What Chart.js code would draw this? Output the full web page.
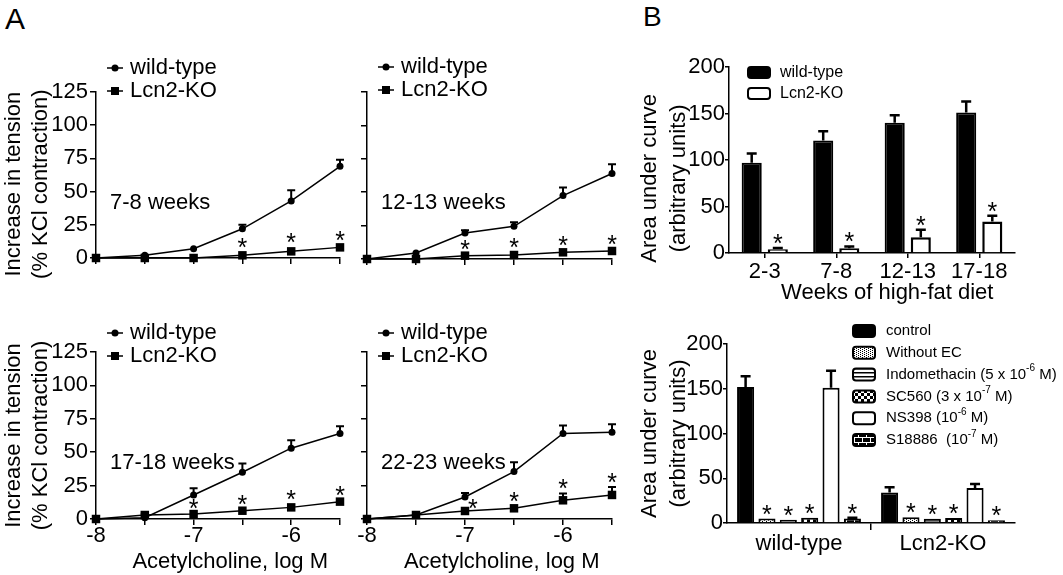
<!DOCTYPE html>
<html>
<head>
<meta charset="utf-8">
<script src="https://cdn.jsdelivr.net/npm/chart.js@4.4.1/dist/chart.umd.min.js"></script>
<style>
  html, body { margin: 0; padding: 0; background: #fff; }
  #wrap { position: relative; width: 1063px; height: 575px; overflow: hidden; background: #fff;
          font-family: "Liberation Sans", Arial, sans-serif; }
  #wrap canvas { position: absolute; left: 0; top: 0; }
  .tag { position: absolute; line-height: 1; color: #000; }
</style>
</head>
<body>
<div id="wrap">
  <div class="tag" style="left:5px;top:4px;font-size:30px">A</div>
  <div class="tag" style="left:643px;top:3px;font-size:28px">B</div>
  <canvas id="a1" width="1063" height="575"></canvas>
  <canvas id="a2" width="1063" height="575"></canvas>
  <canvas id="a3" width="1063" height="575"></canvas>
  <canvas id="a4" width="1063" height="575"></canvas>
  <canvas id="b1" width="1063" height="575"></canvas>
  <canvas id="b2" width="1063" height="575"></canvas>
</div>
<script>
// ---- data: panel A (acetylcholine dose response) ----
const doses = [-8, -7.5, -7, -6.5, -6, -5.5];

const wt78 = [0, 2, 7, 22, 43, 69];
const wt78Err = [0, 0, 0, 3, 8, 5];
const ko78 = [0, 0, 0, 2, 5, 8];
const ko78Err = [0, 0, 0, 0, 0, 0];
const star78 = [[-6.5, 12], [-6, 15.5], [-5.5, 17]];

const wt1213 = [0, 4.5, 19.5, 24.5, 47.5, 64];
const wt1213Err = [0, 0, 2, 3, 6, 7];
const ko1213 = [0, 0, 2.5, 3, 5, 6];
const ko1213Err = [0, 0, 0, 0, 0, 0];
const star1213 = [[-7, 11], [-6.5, 12.5], [-6, 14], [-5.5, 15]];

const wt1718 = [0, 1, 18, 35, 53, 64];
const wt1718Err = [0, 0, 5, 6.5, 6, 5.5];
const ko1718 = [0, 3, 3.7, 6.2, 8.7, 13];
const ko1718Err = [0, 1, 0, 0, 0, 0];
const star1718 = [[-7, 11.7], [-6.5, 15], [-6, 18.7], [-5.5, 21.7]];

const wt2223 = [0, 3, 16.5, 35.5, 64, 65];
const wt2223Err = [0, 0, 3, 7, 6, 6];
const ko2223 = [0, 3, 6, 8, 14, 18];
const ko2223Err = [0, 0, 0, 0, 5, 6];
const star2223 = [[-6.92, 11.7], [-6.5, 17], [-6, 26.7], [-5.5, 31.6]];

// ---- data: panel B (area under curve) ----
const weeks = ['2-3', '7-8', '12-13', '17-18'];
const aucWt = [97, 121, 140, 151];
const aucWtErr = [10, 10, 8, 12];
const aucKo = [4, 5, 17, 34];
const aucKoErr = [1.5, 2, 8, 6];

const genotypes = ['wild-type', 'Lcn2-KO'];
const treatments = ['control', 'Without EC', 'Indomethacin (5 x 10^{-6} M)',
  'SC560 (3 x 10^{-7} M)', 'NS398 (10^{-6} M)', 'S18886  (10^{-7} M)'];
const treatWt = [152, 5, 3.7, 6, 151, 5];
const treatWtErr = [12, 0, 0, 0, 19, 1];
const treatKo = [34, 6.5, 4.8, 5.6, 39, 3];
const treatKoErr = [6, 0, 0, 0, 4.5, 0];
const treatStar = [false, true, true, true, false, true];

const FONT = '"Liberation Sans", Arial, Helvetica, sans-serif';
const W = 1063, H = 575;
Chart.defaults.font.family = FONT;
Chart.defaults.color = '#000';
Chart.defaults.animation = false;

const fixedAxis = size => s => { if (s.isHorizontal()) s.height = size; else s.width = size; };

function errUp(ctx, x, y0, y1, cap) {
  ctx.beginPath();
  ctx.moveTo(x, y0); ctx.lineTo(x, y1);
  ctx.moveTo(x - cap / 2, y1); ctx.lineTo(x + cap / 2, y1);
  ctx.stroke();
}

function star(ctx, x, yCenter) {
  ctx.font = `25px ${FONT}`;
  ctx.textAlign = 'center';
  ctx.textBaseline = 'alphabetic';
  ctx.fillText('*', x, yCenter + 14);
}

// text with ^{...} superscripts
function richText(ctx, str, x, y, size) {
  str.split(/\^\{([^}]*)\}/).forEach((part, i) => {
    const sup = i % 2 === 1;
    ctx.font = `${sup ? Math.round(size * 0.68) : size}px ${FONT}`;
    ctx.fillText(part, x, sup ? y - size * 0.4 : y);
    x += ctx.measureText(part).width;
  });
}

function makePattern(w, h, draw) {
  const c = document.createElement('canvas');
  c.width = w; c.height = h;
  const g = c.getContext('2d');
  draw(g);
  return document.createElement('canvas').getContext('2d').createPattern(c, 'repeat');
}

const blackAxis = (tickLength) => ({
  grid: { display: true, drawOnChartArea: false, drawTicks: true, tickLength, color: '#000', lineWidth: 1.5 },
  border: { display: true, color: '#000', width: 1.5 }
});

// ---- panel A ----
function linePanel(id, p) {
  const a = p.area;
  const yW = p.yLabels ? 95 : 8;
  const xH = p.xLabels ? 56 : 8;

  const extras = {
    id: 'lineExtras',
    afterDatasetsDraw(chart) {
      const { ctx, chartArea: ca, scales: { x, y } } = chart;
      ctx.save();
      ctx.strokeStyle = '#000';
      ctx.fillStyle = '#000';
      ctx.lineWidth = 2;
      [[p.wt, p.wtErr], [p.ko, p.koErr]].forEach(([vals, errs]) => {
        vals.forEach((v, i) => {
          if (!errs[i]) return;
          errUp(ctx, x.getPixelForValue(doses[i]), y.getPixelForValue(v), y.getPixelForValue(v + errs[i]), 8);
        });
      });
      p.stars.forEach(([sx, sy]) => star(ctx, x.getPixelForValue(sx), y.getPixelForValue(sy)));

      ctx.font = `22px ${FONT}`;
      ctx.textAlign = 'left';
      ctx.textBaseline = 'middle';
      ctx.fillText(p.label, ca.left + 14, ca.top + 111);

      chart.data.datasets.forEach((ds, i) => {
        const ly = ca.top + p.legendDy + i * 23;
        const lx = ca.left + 11;
        ctx.lineWidth = 1.5;
        ctx.beginPath(); ctx.moveTo(lx, ly); ctx.lineTo(lx + 16, ly); ctx.stroke();
        ctx.beginPath();
        if (ds.pointStyle === 'rect') ctx.rect(lx + 4, ly - 4, 8, 8);
        else ctx.arc(lx + 8, ly, 3.5, 0, Math.PI * 2);
        ctx.fill();
        ctx.font = `22px ${FONT}`;
        ctx.fillText(ds.label, lx + 23, ly);
      });
      ctx.restore();
    }
  };

  const series = (vals) => doses.map((x, i) => ({ x, y: vals[i] }));
  const lineStyle = { borderColor: '#000', backgroundColor: '#000', borderWidth: 1.5,
    pointBackgroundColor: '#000', pointBorderWidth: 0, tension: 0, clip: false };

  new Chart(document.getElementById(id), {
    type: 'line',
    data: {
      datasets: [
        { label: 'wild-type', data: series(p.wt), pointStyle: 'circle', pointRadius: 3.5, ...lineStyle },
        { label: 'Lcn2-KO', data: series(p.ko), pointStyle: 'rect', pointRadius: 6, ...lineStyle }
      ]
    },
    options: {
      responsive: false,
      events: [],
      layout: { padding: { left: a.left - yW, top: a.top, right: W - a.right, bottom: H - a.bottom - xH } },
      plugins: { legend: { display: false }, tooltip: { enabled: false } },
      scales: {
        x: {
          type: 'linear', min: -8, max: -5.5,
          afterFit: fixedAxis(xH),
          ...blackAxis(6),
          ticks: { display: p.xLabels, stepSize: 0.5, autoSkip: false, maxRotation: 0,
                   callback: v => Number.isInteger(v) ? String(v) : '',
                   font: { size: 22, lineHeight: 1 }, padding: 0 },
          title: { display: p.xLabels, text: '    Acetylcholine, log M', font: { size: 22, lineHeight: 1.2 }, padding: 0 }
        },
        y: {
          min: 0, max: 125,
          afterFit: fixedAxis(yW),
          ...blackAxis(6),
          ticks: { display: p.yLabels, stepSize: 25, font: { size: 22 }, padding: 2 },
          title: { display: p.yLabels, text: p.yTitle || ['Increase in tension', '(% KCl contraction)'],
                   font: { size: 22, lineHeight: 1.2 }, padding: 0 }
        }
      }
    },
    plugins: [extras]
  });
}

linePanel('a1', { area: { left: 96, right: 340, top: 92, bottom: 258 }, xLabels: false, yLabels: true,
  yTitle: ['Increase in tension   ', '(% KCl contraction)   '],
  wt: wt78, wtErr: wt78Err, ko: ko78, koErr: ko78Err, stars: star78, label: '7-8 weeks', legendDy: -24 });
linePanel('a2', { area: { left: 367, right: 612, top: 92, bottom: 259 }, xLabels: false, yLabels: false,
  wt: wt1213, wtErr: wt1213Err, ko: ko1213, koErr: ko1213Err, stars: star1213, label: '12-13 weeks', legendDy: -25 });
linePanel('a3', { area: { left: 96, right: 340, top: 352, bottom: 519 }, xLabels: true, yLabels: true,
  wt: wt1718, wtErr: wt1718Err, ko: ko1718, koErr: ko1718Err, stars: star1718, label: '17-18 weeks', legendDy: -19 });
linePanel('a4', { area: { left: 367, right: 612, top: 352, bottom: 519 }, xLabels: true, yLabels: false,
  wt: wt2223, wtErr: wt2223Err, ko: ko2223, koErr: ko2223Err, stars: star2223, label: '22-23 weeks', legendDy: -19 });

// ---- panel B ----
function barExtras(errs, starsOn, legend) {
  return {
    id: 'barExtras',
    afterDatasetsDraw(chart) {
      const { ctx, chartArea: ca, scales: { y } } = chart;
      ctx.save();
      ctx.strokeStyle = '#000';
      ctx.fillStyle = '#000';
      ctx.lineWidth = 2.5;
      chart.data.datasets.forEach((ds, d) => {
        chart.getDatasetMeta(d).data.forEach((el, i) => {
          const v = ds.data[i];
          const e = errs[d][i];
          if (e) errUp(ctx, el.x, y.getPixelForValue(v), y.getPixelForValue(v + e), 10);
          if (starsOn[d][i]) star(ctx, el.x, y.getPixelForValue(v + e) - 10);
        });
      });
      // legend
      ctx.textAlign = 'left';
      ctx.textBaseline = 'middle';
      chart.data.datasets.forEach((ds, d) => {
        const ly = ca.top + legend.dy + d * legend.step;
        const lx = ca.left + legend.dx;
        ctx.beginPath();
        ctx.roundRect(lx, ly - legend.h / 2, 22, legend.h, 3);
        ctx.fillStyle = ds.backgroundColor;
        ctx.fill();
        ctx.lineWidth = 2;
        ctx.strokeStyle = '#000';
        ctx.stroke();
        ctx.fillStyle = '#000';
        richText(ctx, ds.label, lx + legend.tx, ly, legend.size);
      });
      ctx.restore();
    }
  };
}

const aucTitle = ['Area under curve      ', '(arbitrary units)      '];

new Chart(document.getElementById('b1'), {
  type: 'bar',
  data: {
    labels: weeks,
    datasets: [
      { label: 'wild-type', data: aucWt, backgroundColor: '#000', borderColor: '#000', borderWidth: 2 },
      { label: 'Lcn2-KO', data: aucKo, backgroundColor: '#fff', borderColor: '#000', borderWidth: 2.5 }
    ]
  },
  options: {
    responsive: false,
    events: [],
    layout: { padding: { left: 636, top: 67, right: W - 1015, bottom: H - 253 - 53 } },
    datasets: { bar: { categoryPercentage: 0.73, barPercentage: 0.77 } },
    plugins: { legend: { display: false }, tooltip: { enabled: false } },
    scales: {
      x: {
        afterFit: fixedAxis(53),
        grid: { display: true, offset: false, drawOnChartArea: false, drawTicks: true, tickLength: 5, color: '#000', lineWidth: 1.5 },
        border: { display: true, color: '#000', width: 1.5 },
        ticks: { font: { size: 22, lineHeight: 1 }, padding: 3, maxRotation: 0 },
        title: { display: true, text: '     Weeks of high-fat diet', font: { size: 22, lineHeight: 1.2 }, padding: 0 }
      },
      y: {
        min: 0, max: 200,
        afterFit: fixedAxis(93),
        ...blackAxis(4),
        ticks: { stepSize: 50, font: { size: 22 }, padding: 0 },
        title: { display: true, text: aucTitle, font: { size: 22, lineHeight: 1.3 }, padding: 0 }
      }
    }
  },
  plugins: [barExtras([aucWtErr, aucKoErr], [[false, false, false, false], [true, true, true, true]],
    { dx: 19, dy: 5.5, step: 21, h: 11, tx: 32, size: 16 })]
});

const fills = [
  '#000',
  makePattern(4, 4, g => {
    g.fillStyle = '#fff'; g.fillRect(0, 0, 4, 4);
    g.fillStyle = '#000';
    for (let yy = 0; yy < 4; yy++) for (let xx = 0; xx < 4; xx++) if ((xx + 2 * yy) % 4 === 0) g.fillRect(xx, yy, 1, 1);
  }),
  makePattern(1, 4, g => {
    g.fillStyle = '#fff'; g.fillRect(0, 0, 1, 4);
    g.fillStyle = '#000'; g.fillRect(0, 0, 1, 1.5);
  }),
  makePattern(6, 6, g => {
    g.fillStyle = '#fff'; g.fillRect(0, 0, 6, 6);
    g.fillStyle = '#000'; g.fillRect(0, 0, 3, 3); g.fillRect(3, 3, 3, 3);
  }),
  '#fff',
  makePattern(8, 8, g => {
    g.fillStyle = '#000'; g.fillRect(0, 0, 8, 8);
    g.fillStyle = '#fff';
    g.fillRect(0, 2, 8, 1); g.fillRect(0, 5, 8, 1);
    g.fillRect(2, 2, 1, 4); g.fillRect(6, 0, 1, 2); g.fillRect(6, 6, 1, 2);
  })
];

new Chart(document.getElementById('b2'), {
  type: 'bar',
  data: {
    labels: genotypes,
    datasets: treatments.map((t, i) => ({
      label: t,
      data: [treatWt[i], treatKo[i]],
      backgroundColor: fills[i],
      borderColor: '#000',
      borderWidth: 2
    }))
  },
  options: {
    responsive: false,
    events: [],
    layout: { padding: { left: 636, top: 344, right: W - 1015, bottom: H - 523 - 40 } },
    datasets: { bar: { categoryPercentage: 0.89, barPercentage: 0.8 } },
    plugins: { legend: { display: false }, tooltip: { enabled: false } },
    scales: {
      x: {
        afterFit: fixedAxis(40),
        grid: { display: true, offset: true, drawOnChartArea: false, drawTicks: true, tickLength: 7,
                color: c => (c.index === 1 ? '#000' : 'rgba(0,0,0,0)'), lineWidth: 1.5 },
        border: { display: true, color: '#000', width: 1.5 },
        ticks: { font: { size: 22, lineHeight: 1 }, padding: 3, maxRotation: 0 }
      },
      y: {
        min: 0, max: 200,
        afterFit: fixedAxis(91),
        ...blackAxis(4),
        ticks: { stepSize: 50, font: { size: 22 }, padding: 0 },
        title: { display: true, text: ['Area under curve', '(arbitrary units)'], font: { size: 22, lineHeight: 1.3 }, padding: 0 }
      }
    }
  },
  plugins: [barExtras(
    treatments.map((t, i) => [treatWtErr[i], treatKoErr[i]]),
    treatStar.map(s => [s, s]),
    { dx: 126, dy: -13, step: 21.8, h: 12, tx: 33, size: 15 })]
});
</script>
</body>
</html>
